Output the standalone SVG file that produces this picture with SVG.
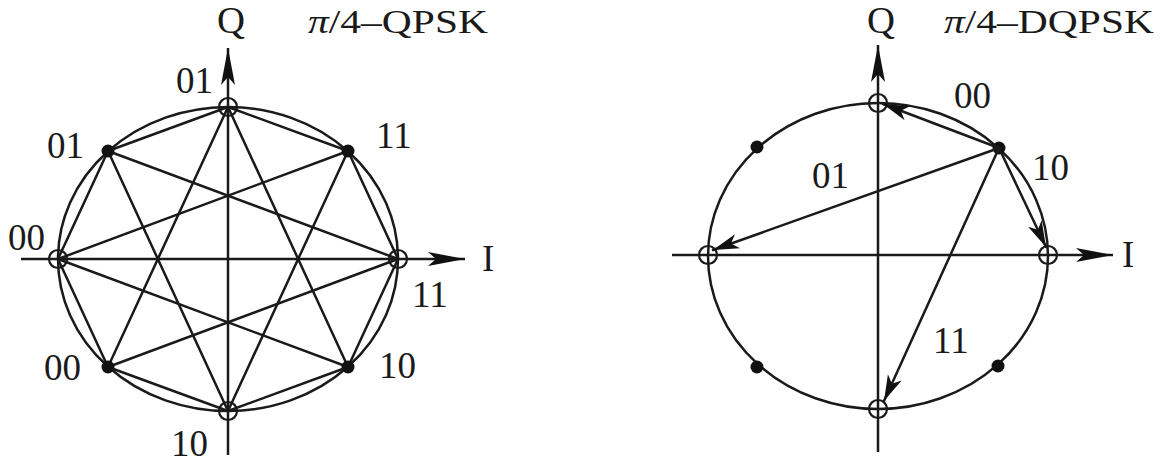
<svg xmlns="http://www.w3.org/2000/svg" width="1162" height="463" viewBox="0 0 1162 463">
<style>
.ln{stroke:#1a1a1a;stroke-width:2.5;fill:none;stroke-linecap:round}
.ax{stroke:#1a1a1a;stroke-width:2.5;fill:none}
.oc{stroke:#1a1a1a;stroke-width:2.2;fill:none}
.dot{fill:#111}
.t{font-family:"Liberation Serif","Times New Roman",serif;font-size:37px;fill:#1a1a1a}
.tt{font-family:"Liberation Serif","Times New Roman",serif;font-size:34px;fill:#1a1a1a}
</style>
<defs>
<marker id="axh" markerUnits="userSpaceOnUse" markerWidth="40" markerHeight="16" viewBox="-38 -8 40 16" refX="0" refY="0" orient="auto">
<path d="M0,0 L-37,-7 L-29,0 L-37,7 Z" fill="#111"/>
</marker>
<marker id="ah" markerUnits="userSpaceOnUse" markerWidth="30" markerHeight="18" viewBox="-28 -9 30 18" refX="0" refY="0" orient="auto">
<path d="M0,0 L-26,-7.5 L-19,0 L-26,7.5 Z" fill="#111"/>
</marker>
</defs>

<!-- LEFT: pi/4-QPSK -->
<g id="left-axes">
<line class="ax" x1="21" y1="259" x2="465" y2="259" marker-end="url(#axh)"/>
<line class="ax" x1="228" y1="455" x2="228" y2="48" marker-end="url(#axh)"/>
</g>
<g id="left-circle"><ellipse class="ln" cx="228" cy="259" rx="170" ry="152"/></g>
<g id="left-connectors">
<line class="ln" x1="228" y1="107" x2="108" y2="151"/>
<line class="ln" x1="228" y1="107" x2="348" y2="151"/>
<line class="ln" x1="228" y1="107" x2="108" y2="367"/>
<line class="ln" x1="228" y1="107" x2="348" y2="367"/>
<line class="ln" x1="228" y1="411" x2="108" y2="151"/>
<line class="ln" x1="228" y1="411" x2="348" y2="151"/>
<line class="ln" x1="228" y1="411" x2="108" y2="367"/>
<line class="ln" x1="228" y1="411" x2="348" y2="367"/>
<line class="ln" x1="58" y1="259" x2="108" y2="151"/>
<line class="ln" x1="58" y1="259" x2="348" y2="151"/>
<line class="ln" x1="58" y1="259" x2="108" y2="367"/>
<line class="ln" x1="58" y1="259" x2="348" y2="367"/>
<line class="ln" x1="398" y1="259" x2="108" y2="151"/>
<line class="ln" x1="398" y1="259" x2="348" y2="151"/>
<line class="ln" x1="398" y1="259" x2="108" y2="367"/>
<line class="ln" x1="398" y1="259" x2="348" y2="367"/>
</g>
<g id="l-p-top"><circle class="oc" cx="228" cy="107" r="9"/><text class="t" x="176" y="93">01</text></g>
<g id="l-p-tl"><circle class="dot" cx="108" cy="151" r="6.5"/><text class="t" x="47" y="158">01</text></g>
<g id="l-p-tr"><circle class="dot" cx="348" cy="151" r="6.5"/><text class="t" x="376" y="148">11</text></g>
<g id="l-p-left"><circle class="oc" cx="58" cy="259" r="9"/><text class="t" x="8" y="250">00</text></g>
<g id="l-p-right"><circle class="oc" cx="398" cy="259" r="9"/><text class="t" x="412" y="307">11</text></g>
<g id="l-p-bl"><circle class="dot" cx="108" cy="367" r="6.5"/><text class="t" x="44" y="380">00</text></g>
<g id="l-p-br"><circle class="dot" cx="348" cy="367" r="6.5"/><text class="t" x="379" y="378">10</text></g>
<g id="l-p-bottom"><circle class="oc" cx="228" cy="411" r="9"/><text class="t" x="171" y="456">10</text></g>
<g id="l-labels">
<text class="t" x="482" y="271">I</text>
<text class="t" x="217" y="33" textLength="28" lengthAdjust="spacingAndGlyphs">Q</text>
<text class="tt" x="308" y="33" textLength="180" lengthAdjust="spacingAndGlyphs"><tspan font-style="italic">π</tspan>/4–QPSK</text>
</g>

<!-- RIGHT: pi/4-DQPSK -->
<g id="right-axes">
<line class="ax" x1="672" y1="255" x2="1113" y2="255" marker-end="url(#axh)"/>
<line class="ax" x1="878" y1="452" x2="878" y2="45" marker-end="url(#axh)"/>
</g>
<g id="right-circle"><ellipse class="ln" cx="878" cy="256" rx="170" ry="153"/></g>
<g id="r-p-top"><circle class="oc" cx="878" cy="103" r="9"/></g>
<g id="r-p-left"><circle class="oc" cx="708" cy="255" r="9"/></g>
<g id="r-p-right"><circle class="oc" cx="1048" cy="255" r="9"/></g>
<g id="r-p-bottom"><circle class="oc" cx="878" cy="409" r="9"/></g>
<g id="r-p-tl"><circle class="dot" cx="757" cy="147" r="6.5"/></g>
<g id="r-p-tr"><circle class="dot" cx="999" cy="148" r="6.5"/></g>
<g id="r-p-bl"><circle class="dot" cx="757" cy="367" r="6.5"/></g>
<g id="r-p-br"><circle class="dot" cx="998" cy="366" r="6.5"/></g>
<g id="right-connectors">
<line class="ln" x1="999" y1="148" x2="883" y2="104" marker-end="url(#ah)"/>
<line class="ln" x1="999" y1="148" x2="713" y2="250" marker-end="url(#ah)"/>
<line class="ln" x1="999" y1="148" x2="1046" y2="247" marker-end="url(#ah)"/>
<line class="ln" x1="999" y1="148" x2="884" y2="401" marker-end="url(#ah)"/>
</g>
<g id="r-labels">
<text class="t" x="954" y="108">00</text>
<text class="t" x="1032" y="180">10</text>
<text class="t" x="812" y="188">01</text>
<text class="t" x="933" y="353">11</text>
<text class="t" x="1122" y="267">I</text>
<text class="t" x="867" y="33" textLength="28" lengthAdjust="spacingAndGlyphs">Q</text>
<text class="tt" x="944" y="33" textLength="210" lengthAdjust="spacingAndGlyphs"><tspan font-style="italic">π</tspan>/4–DQPSK</text>
</g>
</svg>
